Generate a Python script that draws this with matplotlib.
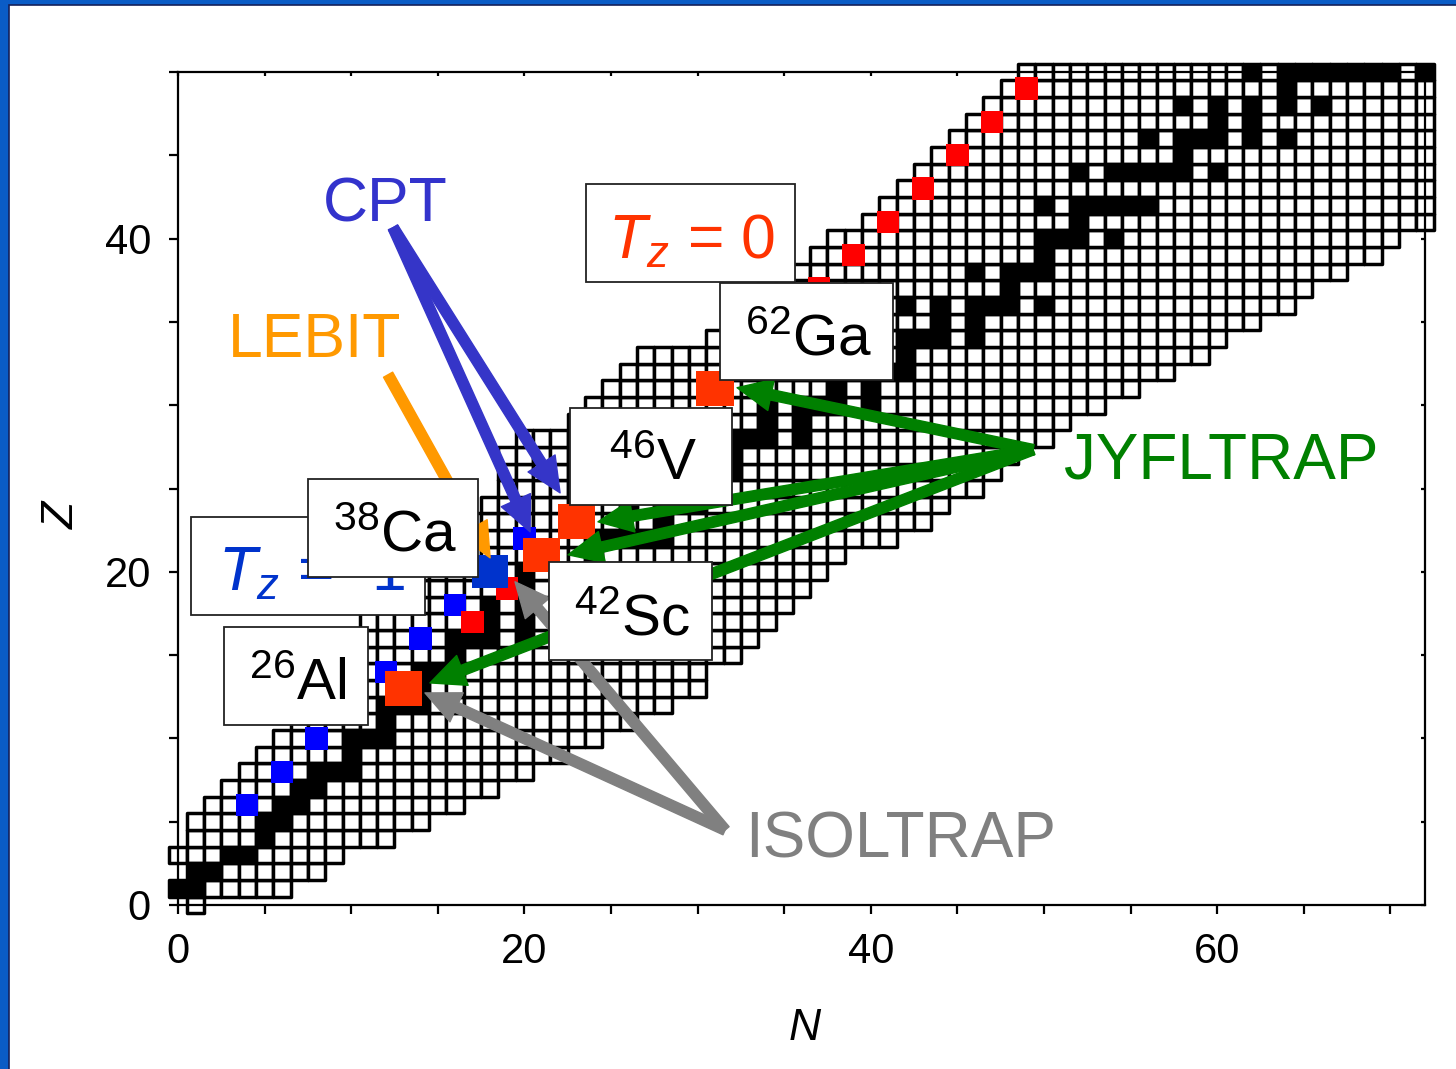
import matplotlib
matplotlib.use("Agg")
import matplotlib.pyplot as plt
from matplotlib.patches import Rectangle, FancyArrowPatch, ArrowStyle
from matplotlib.collections import PatchCollection
from matplotlib.ticker import MultipleLocator

plt.rcParams["font.family"] = ["Liberation Sans", "DejaVu Sans"]
plt.rcParams["mathtext.fontset"] = "custom"
plt.rcParams["mathtext.rm"] = "Liberation Sans"
plt.rcParams["mathtext.it"] = "Liberation Sans:italic"

# ── chart of nuclides, rows Z = 0..50: lightest / heaviest N shown ──────────
N_MIN = [1, 0, 1, 0, 1, 1, 2, 3, 4, 5, 6, 7, 7, 8, 8, 9, 10, 11, 12, 13, 14,
         15, 16, 17, 18, 19, 19, 19, 20, 23, 24, 25, 26, 27, 31, 32, 33, 34,
         36, 37, 38, 40, 41, 42, 43, 44, 45, 46, 47, 48, 49]
N_MAX = [1, 6, 8, 9, 12, 14, 16, 18, 20, 22, 24, 26, 28, 30, 30, 32, 33, 34,
         35, 36, 37, 38, 41, 43, 44, 46, 47, 48, 50, 51, 53, 55, 57, 59, 60,
         62, 64, 65, 67, 69, 70, 73, 75, 76, 77, 78, 81, 84, 86, 87, 87]
N_LIMIT = 72

# stable isotopes, N values per Z
STABLE_N = [
    [], [0, 1], [1, 2], [3, 4], [5], [5, 6], [6, 7], [7, 8], [8, 9, 10], [10],
    [10, 11, 12], [12], [12, 13, 14], [14], [14, 15, 16], [16],
    [16, 17, 18, 20], [18, 20], [18, 20, 22], [20, 22],
    [20, 22, 23, 24, 26], [24], [24, 25, 26, 27, 28], [28], [26, 28, 29, 30],
    [30], [28, 30, 31, 32], [32], [30, 32, 33, 34, 36], [34, 36],
    [34, 36, 37, 38, 40], [38, 40], [38, 40, 41, 42], [42],
    [40, 42, 43, 44, 46], [44, 46], [42, 44, 46, 47, 48, 50], [48],
    [46, 48, 49, 50], [50], [50, 51, 52, 54], [52], [50, 52, 53, 54, 55, 56],
    [], [52, 54, 55, 56, 57, 58, 60], [58], [56, 58, 59, 60, 62, 64],
    [60, 62], [58, 60, 62, 64, 66], [64], [62, 64, 65, 66, 67, 68, 69, 70, 72],
]

# highlighted nuclides
TZM1_N = [4, 6, 8, 10, 12, 14, 16, 20]          # T_z = -1, Z = N + 2
TZ0_N = [17, 19, 25, 27, 29, 33, 35, 37, 39, 41, 43, 45, 47, 49]  # odd-odd N = Z
BIG_TZ0_N = [13, 21, 23, 31]                     # 26Al, 42Sc, 46V, 62Ga
BIG_TZM1 = (18, 20)                              # 38Ca

W, H = 1456, 1069
fig = plt.figure(figsize=(W / 100, H / 100), dpi=100)

# slide frame
fig.patches.append(Rectangle((0, 0), 1, 1, transform=fig.transFigure,
                             facecolor="#0A5CC6", edgecolor="none", zorder=-20))
fig.patches.append(Rectangle((9 / W, -0.01), 1.02, 1 - 5 / H + 0.01,
                             transform=fig.transFigure, facecolor="white",
                             edgecolor="#14205A", lw=1.2, zorder=-19))

ax = fig.add_axes([178 / W, 1 - 905 / H, (1425 - 178) / W, (905 - 72) / H])
ax.set_facecolor("none")
ax.set_xlim(0, 72)
ax.set_ylim(0, 50)

white_cells, black_cells = [], []
for z in range(len(N_MIN)):
    for n in range(N_MIN[z], min(N_MAX[z], N_LIMIT) + 1):
        cell = Rectangle((n - 0.5, z - 0.5), 1, 1)
        (black_cells if n in STABLE_N[z] else white_cells).append(cell)

for cells, face in [(white_cells, "white"), (black_cells, "black")]:
    pc = PatchCollection(cells, facecolor=face, edgecolor="black",
                         linewidth=2.5, zorder=2)
    pc.set_clip_on(False)
    ax.add_collection(pc)


def square(n, z, w, h, color, zo):
    ax.add_patch(Rectangle((n - w / 2, z - h / 2), w, h, facecolor=color,
                           edgecolor="none", zorder=zo, clip_on=False))


for n in TZM1_N:
    square(n, n + 2, 1.29, 1.34, "#0000FF", 3)
for n in TZ0_N:
    square(n, n, 1.29, 1.34, "#FF0000", 3)
for n in BIG_TZ0_N:
    square(n, n, 2.15, 2.08, "#FF3300", 4)
square(BIG_TZM1[0], BIG_TZM1[1], 2.1, 2.0, "#0033CC", 4)


def arrow(tail, tip, color):
    ax.add_patch(FancyArrowPatch(
        tail, tip, arrowstyle=ArrowStyle.Simple(head_length=25, head_width=23,
                                                tail_width=7.5),
        mutation_scale=1, color=color, shrinkA=0, shrinkB=0,
        clip_on=False, zorder=6))


# CPT
arrow((12.42, 40.66), (20.33, 22.40), "#3535C8")
arrow((12.42, 40.66), (22.06, 24.74), "#3535C8")
# LEBIT
arrow((12.13, 31.83), (18.02, 20.84), "#FF9900")
# JYFLTRAP
for tip in [(32.28, 31.05), (24.25, 23.0), (22.52, 21.02), (14.55, 13.33)]:
    arrow((49.37, 27.33), tip, "#008000")
# ISOLTRAP
for tip in [(14.26, 12.73), (19.46, 19.40)]:
    arrow((31.59, 4.50), tip, "#808080")

# axes styling
for s in ax.spines.values():
    s.set_linewidth(1.6)
ax.xaxis.set_major_locator(MultipleLocator(20))
ax.xaxis.set_minor_locator(MultipleLocator(5))
ax.yaxis.set_major_locator(MultipleLocator(20))
ax.yaxis.set_minor_locator(MultipleLocator(5))
ax.tick_params(which="both", direction="out", length=6.5, width=1.6,
               labelsize=30, pad=13, top=True, right=True)
for t in ax.xaxis.get_major_ticks() + ax.xaxis.get_minor_ticks():
    t.tick2line.set_marker(3)
    t.tick2line.set_markersize(3)
for t in ax.yaxis.get_major_ticks() + ax.yaxis.get_minor_ticks():
    t.tick2line.set_marker(0)
    t.tick2line.set_markersize(3)


def ftext(x, y, s, **kw):
    fig.text(x / W, 1 - y / H, s, **kw)


def box(x0, y0, x1, y1, zo):
    fig.add_artist(Rectangle((x0 / W, 1 - y1 / H), (x1 - x0) / W, (y1 - y0) / H,
                             transform=fig.transFigure, facecolor="white",
                             edgecolor="#222222", lw=1.3, zorder=zo))


ftext(805, 1040, "N", fontsize=32, style="italic", ha="center", va="baseline")
ftext(62, 515, "Z", fontsize=32, style="italic", ha="center", va="center",
      rotation=90)

# free labels
ftext(385, 222, "CPT", fontsize=45, color="#3333CC", ha="center", va="baseline")
ftext(315, 357, "LEBIT", fontsize=45, color="#FF9900", ha="center", va="baseline")
ftext(1221, 478, "JYFLTRAP", fontsize=46, color="#008000", ha="center",
      va="baseline")
ftext(901, 858, "ISOLTRAP", fontsize=46, color="#808080", ha="center",
      va="baseline")

# boxed labels
box(191, 517, 425, 615, 10)
ftext(218, 590, r"$T_z$ = -1", fontsize=45, color="#0033CC", ha="left",
      va="baseline", zorder=11)
box(586, 184, 795, 282, 10)
ftext(692, 258, r"$T_z$ = 0", fontsize=45, color="#FF3300", ha="center",
      va="baseline", zorder=11)

for (x0, y0, x1, y1), lab in [
        ((224, 627, 368, 725), r"$^{26}$Al"),
        ((308, 479, 478, 577), r"$^{38}$Ca"),
        ((549, 562, 712, 660), r"$^{42}$Sc"),
        ((570, 408, 732, 505), r"$^{46}$V"),
        ((720, 283, 893, 380), r"$^{62}$Ga")]:
    box(x0, y0, x1, y1, 12)
    ftext((x0 + x1) / 2 + 2, y1 - 25, lab, fontsize=42, color="black",
          ha="center", va="baseline", zorder=13)

fig.savefig("out.png", dpi=100)
